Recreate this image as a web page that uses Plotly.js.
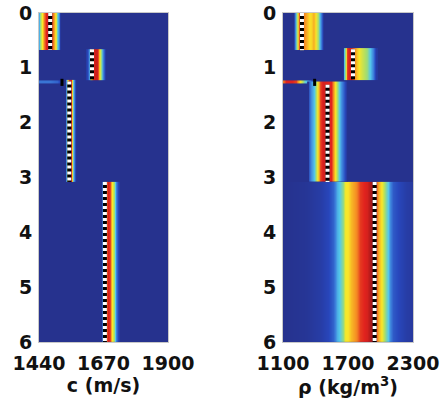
<!DOCTYPE html>
<html><head><meta charset="utf-8">
<script src="https://cdn.plot.ly/plotly-3.0.1.min.js"></script>
<style>html,body{margin:0;padding:0;background:#fff;}#chart{width:440px;height:401px;}</style>
</head><body><div id="chart"></div>
<script>
// ---- depth tick labels ----
const depthTicks = [0, 1, 2, 3, 4, 5, 6];
const cTicks = [1440, 1670, 1900];
const rhoTicks = [1100, 1700, 2300];

// ---- sound speed c (m/s): posterior intensity per layer ----
const cL1Depth = [0, 0.67];
const cL1X = [1440, 1444, 1451, 1458, 1466, 1473, 1480, 1488, 1494, 1500, 1505, 1510, 1515];
const cL1Z = [0.35, 0.5, 0.65, 0.8, 0.88, 0.9, 0.88, 0.85, 0.75, 0.6, 0.45, 0.25, 0.05];

const cL2Depth = [0.66, 1.22];
const cL2X = [1612, 1618, 1623, 1629, 1634, 1641, 1647, 1652, 1657, 1662, 1667, 1672, 1678];
const cL2Z = [0.1, 0.35, 0.6, 0.8, 0.88, 0.92, 0.9, 0.8, 0.65, 0.45, 0.3, 0.12, 0];

const cThinDepth = [1.23, 1.29];
const cThinX = [1440, 1480, 1505, 1515, 1522];
const cThinZ = [0.22, 0.22, 0.18, 0.1, 0];

const cL3Depth = [1.22, 3.08];
const cL3X = [1532, 1537, 1541, 1545, 1549, 1554, 1558, 1562, 1567, 1572];
const cL3Z = [0, 0.3, 0.55, 0.75, 0.88, 0.88, 0.65, 0.38, 0.1, 0];

const cL4Depth = [3.08, 6];
const cL4X = [1660, 1665, 1670, 1679, 1686, 1693, 1698, 1702, 1707, 1712, 1716, 1722, 1730];
const cL4Z = [0, 0.2, 0.5, 0.8, 0.9, 0.85, 0.75, 0.65, 0.52, 0.4, 0.25, 0.1, 0];

// true c profile
const cTrueDepth = [0, 0.67, null, 0.66, 1.21, null, 1.25, 3.08, null, 3.08, 6];
const cTrue = [1480, 1480, null, 1629, 1629, null, 1548, 1548, null, 1675, 1675];
const cThinTrueDepth = [1.2, 1.33];
const cThinTrue = [1522, 1522];

// ---- density rho (kg/m^3) ----
const rL1Depth = [0, 0.68];
const rL1X = [1195, 1211, 1229, 1248, 1262, 1290, 1312, 1340, 1360, 1377, 1395, 1410, 1424, 1440, 1455, 1470];
const rL1Z = [0, 0.35, 0.62, 0.88, 0.86, 0.8, 0.74, 0.66, 0.68, 0.74, 0.66, 0.6, 0.5, 0.38, 0.2, 0];

const rL2Depth = [0.64, 1.22];
const rL2X = [1650, 1663, 1677, 1690, 1705, 1728, 1755, 1783, 1811, 1848, 1875, 1903, 1931, 1958];
const rL2Z = [0, 0.38, 0.62, 0.85, 0.9, 0.88, 0.8, 0.7, 0.62, 0.55, 0.5, 0.4, 0.25, 0.05];

const rThinDepth = [1.23, 1.29];
const rThinX = [1100, 1130, 1180, 1220, 1245, 1265, 1290, 1320, 1345, 1370, 1395];
const rThinZ = [0.8, 0.88, 0.88, 0.85, 0.7, 0.6, 0.45, 0.35, 0.22, 0.1, 0];

const rL3Depth = [1.25, 3.08];
const rL3X = [1330, 1345, 1360, 1391, 1409, 1423, 1441, 1469, 1511, 1543, 1566, 1585, 1598, 1617, 1635, 1663, 1690];
const rL3Z = [0, 0.18, 0.28, 0.4, 0.55, 0.7, 0.85, 0.9, 0.88, 0.88, 0.78, 0.65, 0.52, 0.4, 0.28, 0.15, 0];

const rL4Depth = [3.08, 6];
const rL4X = [1100, 1300, 1440, 1520, 1561, 1580, 1600, 1625, 1650, 1672, 1700, 1728, 1755, 1780, 1810, 1850, 1880, 1900, 1925, 1946, 1972, 1990, 2010, 2030, 2050, 2065, 2090, 2120, 2180, 2240, 2300];
const rL4Z = [0, 0.02, 0.06, 0.11, 0.18, 0.25, 0.35, 0.42, 0.5, 0.64, 0.66, 0.72, 0.76, 0.8, 0.86, 0.88, 0.9, 0.96, 0.98, 0.92, 0.8, 0.72, 0.63, 0.54, 0.46, 0.4, 0.26, 0.16, 0.1, 0.06, 0.04];

// true rho profile
const rTrueDepth = [0, 0.68, null, 0.66, 1.21, null, 1.31, 3.08, null, 3.08, 6];
const rTrue = [1275, 1275, null, 1746, 1746, null, 1511, 1511, null, 1946, 1946];
const rThinTrueDepth = [1.2, 1.33];
const rThinTrue = [1392, 1392];

// ---- styling ----
const bg = 'rgb(38,50,142)';
const cscale = [[0, bg], [0.12, 'rgb(40,72,190)'], [0.25, 'rgb(62,130,220)'], [0.4, 'rgb(85,200,235)'],
  [0.52, 'rgb(165,222,110)'], [0.65, 'rgb(250,232,40)'], [0.78, 'rgb(245,145,35)'], [0.88, 'rgb(225,35,30)'], [1, 'rgb(150,20,25)']];

function layerTrace(xs, zs, depth, xa, ya) {
  const mid = (depth[0] + depth[1]) / 2;
  return {type: 'heatmap', x: xs, y: [depth[0], mid, depth[1]], z: [zs, zs],
    zmin: 0, zmax: 1, colorscale: cscale, showscale: false, zsmooth: 'best',
    xaxis: xa, yaxis: ya, hoverinfo: 'skip'};
}
function trueTraces(xs, ys, xa, ya) {
  return [
    {type: 'scatter', mode: 'lines', x: xs, y: ys, xaxis: xa, yaxis: ya, line: {color: '#000', width: 4}, hoverinfo: 'skip'},
    {type: 'scatter', mode: 'lines', x: xs, y: ys, xaxis: xa, yaxis: ya, line: {color: '#fff', width: 4, dash: '3px,3px'}, hoverinfo: 'skip'}
  ];
}

const data = [
  layerTrace(cL1X, cL1Z, cL1Depth, 'x', 'y'),
  layerTrace(cL2X, cL2Z, cL2Depth, 'x', 'y'),
  layerTrace(cThinX, cThinZ, cThinDepth, 'x', 'y'),
  layerTrace(cL3X, cL3Z, cL3Depth, 'x', 'y'),
  layerTrace(cL4X, cL4Z, cL4Depth, 'x', 'y'),
  ...trueTraces(cTrue, cTrueDepth, 'x', 'y'),
  {type: 'scatter', mode: 'lines', x: cThinTrue, y: cThinTrueDepth, xaxis: 'x', yaxis: 'y', line: {color: '#000', width: 3}, hoverinfo: 'skip'},
  layerTrace(rL4X, rL4Z, rL4Depth, 'x2', 'y2'),
  layerTrace(rL1X, rL1Z, rL1Depth, 'x2', 'y2'),
  layerTrace(rL2X, rL2Z, rL2Depth, 'x2', 'y2'),
  layerTrace(rThinX, rThinZ, rThinDepth, 'x2', 'y2'),
  layerTrace(rL3X, rL3Z, rL3Depth, 'x2', 'y2'),
  ...trueTraces(rTrue, rTrueDepth, 'x2', 'y2'),
  {type: 'scatter', mode: 'lines', x: rThinTrue, y: rThinTrueDepth, xaxis: 'x2', yaxis: 'y2', line: {color: '#000', width: 3}, hoverinfo: 'skip'}
];

const tf = {family: 'DejaVu Sans, Verdana, sans-serif', size: 19, color: '#111', weight: 'bold'};
const common = {showgrid: false, zeroline: false, showline: true, mirror: true, linecolor: '#c8c8c8', linewidth: 1, ticks: '', tickfont: tf, fixedrange: true};
const yDom = [0.1471, 0.9676];

const layout = {
  width: 440, height: 401,
  margin: {l: 0, r: 0, t: 0, b: 0},
  paper_bgcolor: '#fff', plot_bgcolor: bg,
  showlegend: false,
  xaxis: Object.assign({}, common, {domain: [0.0886, 0.3818], range: [1440, 1900], tickvals: cTicks, anchor: 'y', ticklabelstandoff: 4,
    title: {text: 'c (m/s)', font: tf, standoff: 1}}),
  yaxis: Object.assign({}, common, {domain: yDom, range: [6, 0], tickvals: depthTicks, anchor: 'x', ticklabelstandoff: 2}),
  xaxis2: Object.assign({}, common, {domain: [0.6432, 0.9386], range: [1100, 2300], tickvals: rhoTicks, anchor: 'y2', ticklabelstandoff: 4,
    title: {text: 'ρ (kg/m<sup>3</sup>)', font: tf, standoff: 1}}),
  yaxis2: Object.assign({}, common, {domain: yDom, range: [6, 0], tickvals: depthTicks, anchor: 'x2', ticklabelstandoff: 2})
};

Plotly.newPlot('chart', data, layout, {displayModeBar: false, staticPlot: true});
</script></body></html>
